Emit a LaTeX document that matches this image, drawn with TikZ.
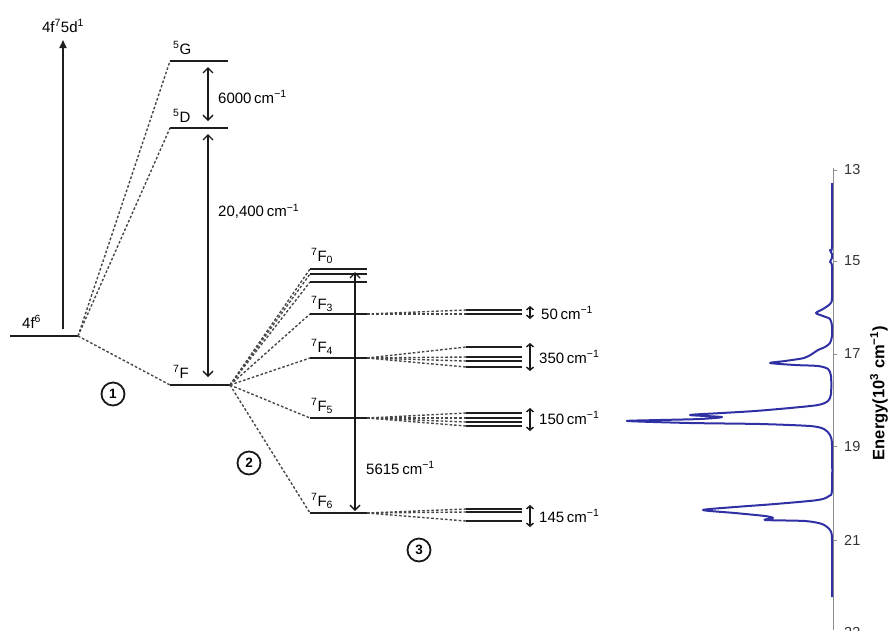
\documentclass[tikz,border=0pt]{standalone}
\usepackage{fontspec}
\setmainfont{Liberation Sans}
\usetikzlibrary{arrows.meta}
\newcommand{\icm}{\hspace{0.18em}cm\textsuperscript{−1}}
\definecolor{specblue}{RGB}{48,48,165}
\definecolor{lvl}{RGB}{30,30,30}
\begin{document}
\begin{tikzpicture}[x=1pt,y=-1pt,
 level/.style={draw=lvl,line width=1.9pt},
 sub/.style={draw=lvl,line width=1.6pt},
 conn/.style={draw=black!72,line width=1.4pt,dash pattern=on 2.6pt off 2pt},
 gaparrow/.style={draw=black!90,line width=1.4pt,{Straight Barb[length=5pt,width=10pt]}-{Straight Barb[length=5pt,width=10pt]}},
 smallgap/.style={draw=black!90,line width=1.4pt,{Straight Barb[length=3pt,width=7pt]}-{Straight Barb[length=3pt,width=7pt]}},
 txt/.style={inner sep=0pt,anchor=west,font=\fontsize{15}{17}\selectfont},
 term/.style={inner sep=0pt,anchor=base west,font=\fontsize{15}{17}\selectfont},
 circ/.style={circle,draw=black!90,line width=1.8pt,minimum size=23pt,inner sep=0pt,font=\fontsize{13.5}{15}\selectfont\bfseries},
 tick/.style={draw=black!45,line width=0.8pt},
 ticklab/.style={inner sep=0pt,anchor=west,font=\fontsize{14.5}{16}\selectfont,text=black!80},
 ]
\useasboundingbox (0,0) rectangle (890,630);

% ground configuration and excitation
\coordinate (gL) at (10,336); \coordinate (gR) at (78,336);
\draw[level] (gL) -- (gR);
\node[term] (g6) at (22,328) {4f\textsuperscript{6}};
\coordinate (exB) at (63,329); \coordinate (exT) at (63,40);
\draw[line width=1.8pt,draw=lvl,-{Triangle[length=8pt,width=7pt]}] (exB) -- (exT);
\node[inner sep=0pt,anchor=base,font=\fontsize{15}{17}\selectfont] (ex) at (63,32) {4f\textsuperscript{7}5d\textsuperscript{1}};

% terms
\coordinate (GL) at (170,61); \coordinate (GR) at (228,61);
\coordinate (DL) at (170,128); \coordinate (DR) at (228,128);
\coordinate (FL) at (170,385); \coordinate (FR) at (230,385);
\draw[conn] (gR) -- (GL);
\draw[conn] (gR) -- (DL);
\draw[conn] (gR) -- (FL);
\draw[level] (GL) -- (GR);
\draw[level] (DL) -- (DR);
\draw[level] (FL) -- (FR);
\node[term] (tG) at (173,54) {\textsuperscript{5}G};
\node[term] (tD) at (173,122) {\textsuperscript{5}D};
\node[term] (tF) at (173,378) {\textsuperscript{7}F};

\coordinate (a1t) at (208,67); \coordinate (a1b) at (208,121);
\draw[gaparrow] (a1t) -- (a1b);
\node[txt] (l6000) at (218,97) {6000\icm};
\coordinate (a2t) at (208,134); \coordinate (a2b) at (208,377);
\draw[gaparrow] (a2t) -- (a2b);
\node[txt] (l20400) at (218,211) {20,400\icm};

% J levels
\foreach \n/\y in {0/269,1/274,2/282,3/314,4/358,5/418,6/513}{
  \coordinate (JL\n) at (310,\y); \coordinate (JR\n) at (367,\y);
  \draw[conn] (FR) -- (JL\n);
  \draw[level] (JL\n) -- (JR\n);
}
\node[term] (tF0) at (311,261) {\textsuperscript{7}F\textsubscript{0}};
\node[term] (tF3) at (311,309) {\textsuperscript{7}F\textsubscript{3}};
\node[term] (tF4) at (311,352) {\textsuperscript{7}F\textsubscript{4}};
\node[term] (tF5) at (311,411) {\textsuperscript{7}F\textsubscript{5}};
\node[term] (tF6) at (311,506) {\textsuperscript{7}F\textsubscript{6}};

\coordinate (a3t) at (355,272); \coordinate (a3b) at (355,511);
\draw[gaparrow] (a3t) -- (a3b);
\node[txt] (l5615) at (366,468) {5615\icm};

% crystal-field sublevels
\foreach \n/\k/\y in {3/a/310,3/b/314,4/a/347,4/b/357,4/c/361,4/d/367,5/a/413,5/b/418,5/c/422,5/d/426,6/a/509,6/b/512,6/c/521}{
  \coordinate (SL\n\k) at (466,\y); \coordinate (SR\n\k) at (522,\y);
  \draw[conn] (JR\n) -- (SL\n\k);
  \draw[sub] (SL\n\k) -- (SR\n\k);
}
\coordinate (s3t) at (530,306); \coordinate (s3b) at (530,319);
\coordinate (s4t) at (530,343); \coordinate (s4b) at (530,371);
\coordinate (s5t) at (530,408); \coordinate (s5b) at (530,431);
\coordinate (s6t) at (530,505); \coordinate (s6b) at (530,527);
\draw[smallgap] (s3t) -- (s3b);
\draw[smallgap] (s4t) -- (s4b);
\draw[smallgap] (s5t) -- (s5b);
\draw[smallgap] (s6t) -- (s6b);
\node[txt] (l50) at (541,313) {50\icm};
\node[txt] (l350) at (539,357) {350\icm};
\node[txt] (l150) at (539,418) {150\icm};
\node[txt] (l145) at (539,516) {145\icm};

% circled step numbers
\node[circ] (c1) at (113,394) {1};
\node[circ] (c2) at (249,463) {2};
\node[circ] (c3) at (419,550) {3};

% spectrum
\coordinate (axT) at (833,168); \coordinate (axB) at (833,630);
\draw[draw=black!45,line width=0.9pt] (axT) -- (axB);
\foreach \e/\y in {13/170,15/261,17/354,19/446,21/540,23/632}{
  \coordinate (tk\e) at (833,\y); \coordinate (tke\e) at (837,\y);
  \draw[tick] (tk\e) -- (tke\e);
  \node[ticklab] (tl\e) at (844,\y) {\e};
}
\node[rotate=90,inner sep=0pt,font=\fontsize{16.5}{18}\selectfont\bfseries] (elab) at (879,393) {Energy(10\textsuperscript{3} cm\textsuperscript{−1})};

\draw[specblue,line width=2pt,line join=round] plot[smooth,tension=0.45] coordinates {
(832,183) (832,246) (830,250) (832,254) (832,258) (830,262) (832,266) (832,298) (830,304) (823,309) (816,313) (823,316) (830,319) (832,326) (832,336) (830,343) (825,347) (818,350) (812,354) (804,358) (785,361) (770,363) (795,365) (818,366) (828,369) (831,376) (831,394) (828,401) (818,405) (790,408) (755,411) (722,413) (690,415) (722,417) (700,419) (660,420) (627,421) (690,423) (760,424) (810,426) (824,429) (830,435) (832,445) (832,490) (829,496) (818,500) (775,504) (735,507) (703,510) (735,513) (765,516) (773,518) (765,520) (805,521) (822,524) (830,530) (832,540) (832,597)};
\end{tikzpicture}
\end{document}
